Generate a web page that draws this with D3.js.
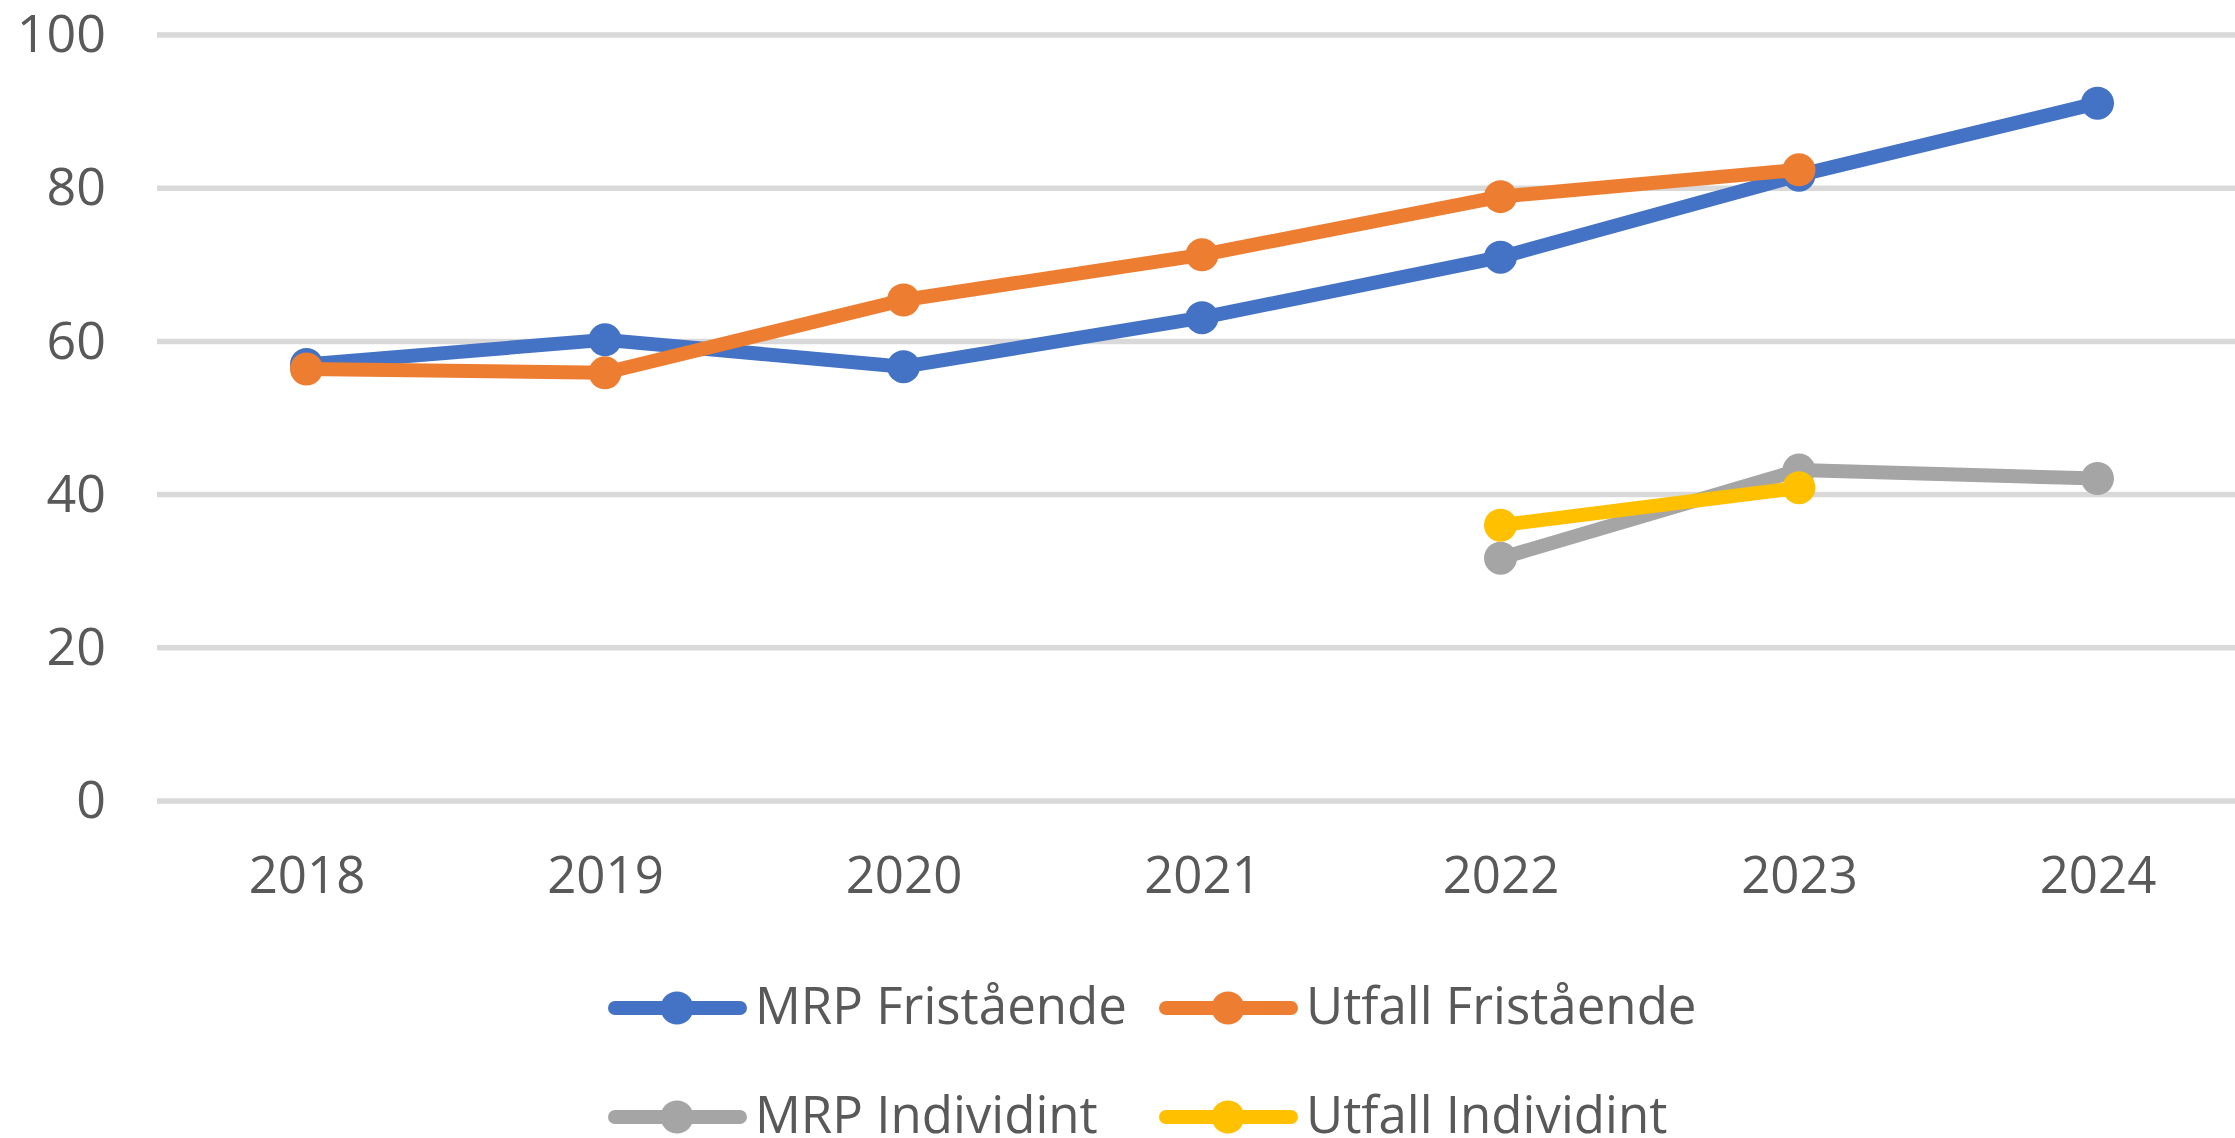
<!DOCTYPE html>
<html>
<head>
<meta charset="utf-8">
<script src="https://cdn.jsdelivr.net/npm/d3@7"></script>
<style>
  body { margin: 0; background: #fff; }
  svg { display: block; }
  text { font-family: "Open Sans", sans-serif; fill: #595959; }
</style>
</head>
<body>
<svg id="chart" width="2235" height="1138"></svg>
<script>
// data
const years = ['2018', '2019', '2020', '2021', '2022', '2023', '2024'];
const mrpFristaende = [57.0, 60.2, 56.7, 63.1, 71.0, 81.7, 91.1];
const utfallFristaende = [56.4, 55.9, 65.4, 71.3, 78.9, 82.4, null];
const mrpIndividint = [null, null, null, null, 31.7, 43.2, 42.1];
const utfallIndividint = [null, null, null, null, 36.0, 40.9, null];
const yTicks = [0, 20, 40, 60, 80, 100];

const series = [
  {name: 'MRP Fristående', values: mrpFristaende, color: '#4472C4'},
  {name: 'Utfall Fristående', values: utfallFristaende, color: '#ED7D31'},
  {name: 'MRP Individint', values: mrpIndividint, color: '#A5A5A5'},
  {name: 'Utfall Individint', values: utfallIndividint, color: '#FFC000'}
];

const svg = d3.select('#chart');

const x = d3.scalePoint().domain(years).range([306.5, 2097.5]);
const y = d3.scaleLinear().domain([0, 100]).range([801, 35]);

// gridlines
svg.append('g').selectAll('line')
  .data(yTicks)
  .join('line')
  .attr('x1', 157).attr('x2', 2235)
  .attr('y1', d => y(d)).attr('y2', d => y(d))
  .attr('stroke', '#d9d9d9')
  .attr('stroke-width', 5.5);

// y axis labels
const yAxis = svg.append('g')
  .attr('transform', 'translate(106,0)')
  .call(d3.axisLeft(y).tickValues(yTicks).tickSize(0).tickPadding(0));
yAxis.select('.domain').remove();
yAxis.selectAll('text')
  .attr('font-size', 52)
  .attr('font-family', '"Open Sans", sans-serif')
  .attr('fill', '#595959');

// x axis labels
const xAxis = svg.append('g')
  .call(d3.axisBottom(x).tickSize(0).tickPadding(0));
xAxis.select('.domain').remove();
xAxis.selectAll('text')
  .attr('y', 893)
  .attr('dy', 0)
  .attr('font-size', 51)
  .attr('font-family', '"Open Sans", sans-serif')
  .attr('fill', '#595959');

const line = d3.line()
  .defined(d => d.v != null)
  .x(d => x(d.year))
  .y(d => y(d.v));

series.forEach(s => {
  const pts = years.map((year, i) => ({year, v: s.values[i]}));
  const g = svg.append('g');
  g.append('path')
    .datum(pts)
    .attr('d', line)
    .attr('fill', 'none')
    .attr('stroke', s.color)
    .attr('stroke-width', 14)
    .attr('stroke-linejoin', 'round')
    .attr('stroke-linecap', 'round');
  g.selectAll('circle')
    .data(pts.filter(d => d.v != null))
    .join('circle')
    .attr('cx', d => x(d.year))
    .attr('cy', d => y(d.v))
    .attr('r', 16.5)
    .attr('fill', s.color);
});

// legend
const legendPos = [[608, 1008], [1159, 1008], [608, 1117], [1159, 1117]];
const legend = svg.append('g');
series.forEach((s, i) => {
  const [lx, ly] = legendPos[i];
  const item = legend.append('g').attr('transform', `translate(${lx},${ly})`);
  item.append('line')
    .attr('x1', 7).attr('x2', 132)
    .attr('stroke', s.color)
    .attr('stroke-width', 14)
    .attr('stroke-linecap', 'round');
  item.append('circle')
    .attr('cx', 69).attr('r', 16.5)
    .attr('fill', s.color);
  item.append('text')
    .attr('x', 147)
    .attr('y', 16)
    .attr('font-size', 51)
    .text(s.name);
});
</script>
</body>
</html>
